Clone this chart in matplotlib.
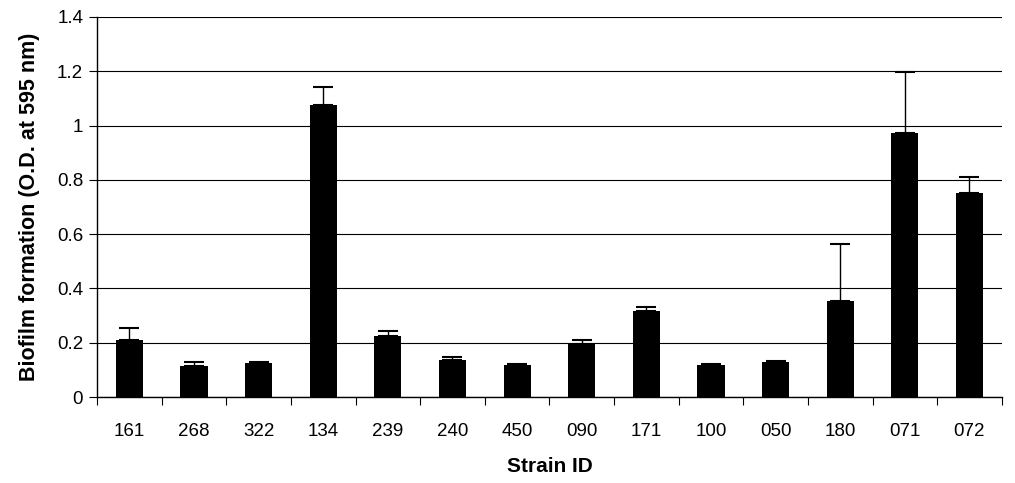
import numpy as np
import matplotlib.pyplot as plt

plt.rcParams['font.family'] = ['Liberation Sans', 'DejaVu Sans']

strains = ['161', '268', '322', '134', '239', '240', '450',
           '090', '171', '100', '050', '180', '071', '072']
biofilm = [0.211, 0.115, 0.124, 1.076, 0.226, 0.136, 0.117,
           0.194, 0.316, 0.117, 0.130, 0.353, 0.974, 0.750]
# upper error only (as drawn)
err_up = [0.044, 0.014, 0.005, 0.064, 0.018, 0.011, 0.005,
          0.017, 0.016, 0.006, 0.002, 0.210, 0.222, 0.062]

fig = plt.figure(figsize=(10.15, 4.83), dpi=100)
ax = fig.add_axes([0.0956, 0.178, 0.8914, 0.787])

x = np.arange(len(strains))
ax.bar(x, biofilm, width=0.42, color='black', zorder=3)
ax.errorbar(x, biofilm, yerr=[np.zeros(len(x)), err_up], fmt='none',
            ecolor='black', elinewidth=1, capsize=7, capthick=1.5, zorder=4)

ax.set_xlim(-0.5, len(strains) - 0.5)
ax.set_ylim(0, 1.4)
ax.set_yticks(np.arange(0, 1.41, 0.2))
ax.set_yticklabels(['0', '0.2', '0.4', '0.6', '0.8', '1', '1.2', '1.4'])
ax.yaxis.grid(True, color='black', linewidth=0.8, zorder=0)

ax.set_xticks(x)
ax.set_xticklabels(strains)
ax.set_xticks(np.arange(-0.5, len(strains), 1), minor=True)
ax.tick_params(axis='x', which='major', length=0, pad=19, labelsize=13.5)
ax.tick_params(axis='x', which='minor', length=6, width=0.8)
ax.tick_params(axis='y', length=6, width=0.8, labelsize=13.5, pad=4)

for s in ['top', 'right']:
    ax.spines[s].set_visible(False)
ax.spines['left'].set_linewidth(1)
ax.spines['bottom'].set_linewidth(1)

ax.set_xlabel('Strain ID', fontsize=15, fontweight='bold', labelpad=12)
ax.set_ylabel('Biofilm formation (O.D. at 595 nm)', fontsize=15.5,
              fontweight='bold', labelpad=12)

plt.savefig('out.png', dpi=100)
